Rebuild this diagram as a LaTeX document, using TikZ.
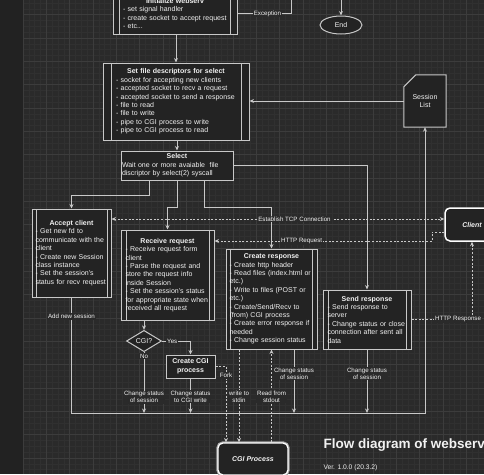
\documentclass[tikz,border=0pt]{standalone}
\usepackage{fontspec}
\setmainfont{Liberation Sans}
\usetikzlibrary{arrows.meta,shapes.geometric}

\definecolor{canvas}{HTML}{2A2A2A}
\definecolor{band}{HTML}{222222}
\definecolor{gridminor}{HTML}{303030}
\definecolor{gridmajor}{HTML}{3C3C3C}
\definecolor{boxfill}{HTML}{232323}
\definecolor{edge}{HTML}{C8C8C8}
\definecolor{ink}{HTML}{F2F2F2}

\begin{document}
\begin{tikzpicture}[x=1pt, y=-1pt,
	>={Stealth[length=4.5pt,width=4pt]},
	every node/.style={text=ink},
	txt/.style={font=\fontsize{7}{8.4}\selectfont},
	lbl/.style={fill=canvas, inner sep=0.8pt, align=center, font=\fontsize{6.2}{7}\selectfont},
	plainbox/.style={draw=edge, fill=boxfill, line width=1pt, txt, inner sep=0pt, align=left},
	proc/.style={plainbox, path picture={
		\draw[edge, line width=0.8pt] ([xshift=#1]path picture bounding box.north west) -- ([xshift=#1]path picture bounding box.south west)
			([xshift=-#1]path picture bounding box.north east) -- ([xshift=-#1]path picture bounding box.south east);}},
	roundbox/.style={draw=white, fill=boxfill, line width=1.5pt, rounded corners=5pt,
		font=\fontsize{7}{8.4}\selectfont\bfseries\itshape},
	arr/.style={draw=edge, line width=0.9pt, ->},
	darr/.style={draw=edge, line width=0.9pt, dash pattern=on 2pt off 1.6pt}]

	\useasboundingbox (0,0) rectangle (484,474);
	\clip (0,0) rectangle (484,474);

	% grid
	\fill[canvas] (0,0) rectangle (484,474);
	\fill[band] (0,0) rectangle (23,474);
	\foreach \k in {0,...,79} \draw[gridminor, line width=0.5pt] ({23+\k*5.8333},0) -- ({23+\k*5.8333},474);
	\foreach \k in {0,...,81} \draw[gridminor, line width=0.5pt] (23,{3.03+\k*5.8333}) -- (484,{3.03+\k*5.8333});
	\foreach \k in {0,...,20} \draw[gridmajor, line width=0.6pt] ({23+\k*23.333},0) -- ({23+\k*23.333},474);
	\foreach \k in {0,...,20} \draw[gridmajor, line width=0.6pt] (23,{14.7+\k*23.333}) -- (484,{14.7+\k*23.333});

	% boxes
	\node[proc=6.5pt, minimum width=124, minimum height=41, text width=104] (init) at (175,13.5)
		{{\centering\textbf{Initialize webserv}\par}- set signal handler\\- create socket to accept request\\- etc...};
	\node[ellipse, draw=edge, fill=boxfill, line width=1pt, txt, minimum width=42, minimum height=18, inner sep=0pt] (end) at (341,25) {End};
	\node[proc=8pt, minimum width=146, minimum height=77, text width=120] (setfd) at (176,101.5)
		{{\centering\textbf{Set file descriptors for select}\par}- socket for accepting new clients\\- accepted socket to recv a request\\- accepted socket to send a response\\- file to read\\- file to write\\- pipe to CGI process to write\\- pipe to CGI process to read};
	\node[inner sep=0pt, minimum width=42, minimum height=52] (sess) at (425,101) {};
	\filldraw[draw=edge, fill=boxfill, line width=1pt] ([yshift=-12pt]sess.north west) -- ([xshift=12pt]sess.north west)
		-- (sess.north east) -- (sess.south east) -- (sess.south west) -- cycle;
	\node[txt, align=center] (sesstxt) at (sess) {Session\\List};
	\node[plainbox, minimum width=112, minimum height=29, text width=110] (select) at (177,165.5)
		{{\centering\textbf{Select}\par}Wait one or more avaiable~~file\\discriptor by select(2) syscall};
	\node[proc=4pt, minimum width=79, minimum height=88, text width=72] (accept) at (71.5,253)
		{{\centering\textbf{Accept client}\par}- Get new fd to\\communicate with the\\client\\- Create new Session\\class instance\\- Set the session's\\status for recv request};
	\node[proc=5pt, minimum width=93, minimum height=90, text width=84] (recv) at (167.5,275)
		{{\centering\textbf{Receive request}\par}- Receive request form\\client\\- Parse the request and\\store the request info\\inside Session\\- Set the session's status\\for appropriate state when\\received all request};
	\node[proc=4.5pt, minimum width=91, minimum height=100, text width=84] (resp) at (271.5,299)
		{{\centering\textbf{Create response}\par}- Create http header\\- Read files (index.html or\\etc.)\\- Write to files (POST or\\etc.)\\- Create/Send/Recv to\\(from) CGI process\\- Create error response if\\needed\\- Change session status};
	\node[proc=5pt, minimum width=88, minimum height=59, text width=79] (send) at (367,319.5)
		{{\centering\textbf{Send response}\par}- Send response to\\server\\- Change status or close\\connection after sent all\\data};
	\node[diamond, draw=edge, fill=boxfill, line width=1pt, txt, inner sep=0pt, minimum width=35, minimum height=17] (cgi) at (144,341) {CGI?};
	\node[plainbox, align=center, minimum width=49, minimum height=23, font=\fontsize{7}{8.6}\selectfont\bfseries] (mkcgi) at (190.5,366.5) {Create CGI\\process};
	\node[roundbox, minimum width=54, minimum height=33] (client) at (472,224.5) {Client};
	\node[roundbox, line width=1.3pt, preaction={draw=gray!70, line width=3.4pt}, minimum width=70, minimum height=32] (cgiproc) at (253,459) {CGI Process};

	\coordinate (exc) at (291,-8);
	\coordinate (bus) at (425,413);

	% connectors
	\draw[arr] (init.east) -| node[lbl, pos=0.28]{Exception} (exc) -| (end.north);
	\draw[arr] (setfd.north |- init.south) -- (setfd.north);
	\draw[arr] (sess.west) -- (sess.west -| setfd.east);
	\draw[arr] (select.north |- setfd.south) -- (select.north);
	\draw[arr] ([xshift=-28pt]select.south) -- ++(0,15) -| (accept.north);
	\draw[arr] (select.south) -- ++(0,27) -| (recv.north);
	\draw[arr] ([xshift=27pt]select.south) -- ++(0,27) -| (resp.north);
	\draw[arr] (select.east) -| (send.north);

	\draw[darr, <->] ([yshift=34pt]accept.east) -- ([yshift=34pt]accept.east -| client.west) node[lbl, pos=0.55]{Establish TCP Connection};
	\draw[darr, ->] ([yshift=-7.5pt]client.west) -- ++(-12,0) |- node[lbl, pos=0.8]{HTTP Request} ([yshift=34pt]recv.east);
	\draw[darr, ->] (send.east) -| node[lbl, pos=0.385]{HTTP Response} (client.south);

	\draw[arr] (cgi.north |- recv.south) -- (cgi.north);
	\draw[arr] (cgi.east) -| node[lbl, pos=0.18]{Yes} (mkcgi.north);
	\draw[arr] (cgi.south) -- (cgi.south |- bus) node[lbl, pos=0.07]{No} node[lbl, pos=0.74]{Change status\\of session};
	\draw[arr] (mkcgi.south) -- (mkcgi.south |- bus) node[lbl, pos=0.53]{Change status\\to CGI write};
	\draw[arr] ([xshift=22.5pt]resp.south) -- ([xshift=22.5pt]resp.south |- bus) node[lbl, pos=0.38]{Change status\\of session};
	\draw[arr] (send.south) -- (send.south |- bus) node[lbl, pos=0.375]{Change status\\of session};
	\draw[arr] (accept.south) |- node[lbl, pos=0.082]{Add new session} (bus) -- (sess.south);

	\draw[darr, ->] (mkcgi.east) -| node[lbl, pos=0.56]{Fork} ([xshift=-27pt]cgiproc.north);
	\draw[darr, ->] ([xshift=-32.5pt]resp.south) -- ([xshift=-32.5pt]resp.south |- cgiproc.north) node[lbl, pos=0.505]{write to\\stdin};
	\draw[darr, ->] (resp.south |- cgiproc.north) -- (resp.south) node[lbl, pos=0.495]{Read from\\stdout};

	% title
	\node[anchor=base west, font=\fontsize{13.5}{16}\selectfont\bfseries] (title) at (320,448) {Flow diagram of webserv};
	\node[anchor=base west, font=\fontsize{6.7}{8}\selectfont] (ver) at (320,469) {Ver. 1.0.0 (20.3.2)};
\end{tikzpicture}
\end{document}
